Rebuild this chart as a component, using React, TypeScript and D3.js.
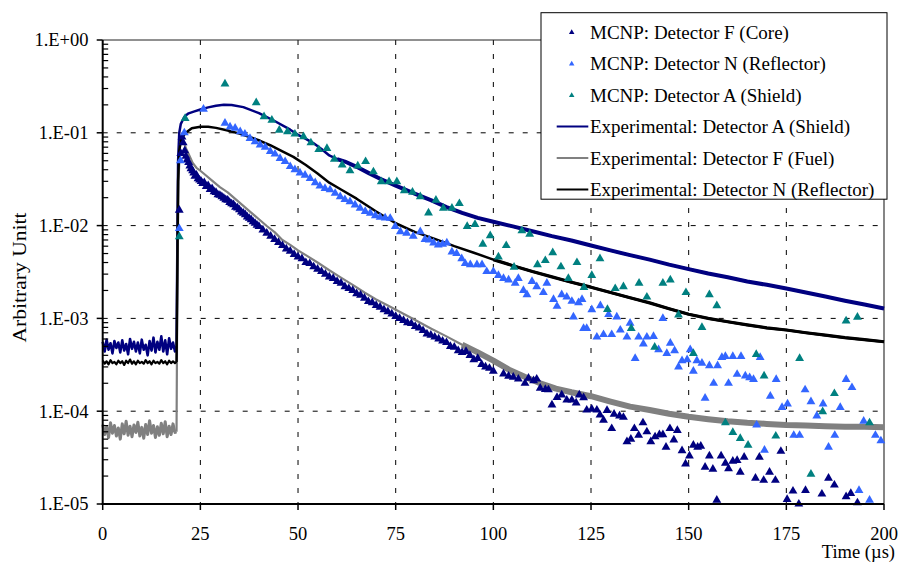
import React from 'react';
import * as d3 from 'd3';

// ---------- data ----------
const xTickValues = [0, 25, 50, 75, 100, 125, 150, 175, 200];
const yTickValues = [1, 1e-1, 1e-2, 1e-3, 1e-4, 1e-5];
const yTickLabels = ['1.E+00', '1.E-01', '1.E-02', '1.E-03', '1.E-04', '1.E-05'];
const xTitle = 'Time (µs)';
const yTitle = 'Arbitrary Unitt';

const legendLabels = [
  'MCNP: Detector F (Core)',
  'MCNP: Detector N (Reflector)',
  'MCNP: Detector A (Shield)',
  'Experimental: Detector A (Shield)',
  'Experimental: Detector F (Fuel)',
  'Experimental: Detector N (Reflector)',
];

// pre-pulse readings (t = 0, 0.5, ... 18.5)
const preTimes = [0,0.5,1,1.5,2,2.5,3,3.5,4,4.5,5,5.5,6,6.5,7,7.5,8,8.5,9,9.5,10,10.5,11,11.5,12,12.5,13,13.5,14,14.5,15,15.5,16,16.5,17,17.5,18,18.5];
const preShield = [5.6e-4,4.4e-4,5.9e-4,4.6e-4,5.4e-4,4.2e-4,5.7e-4,4.8e-4,5.5e-4,4.3e-4,5.8e-4,4.5e-4,5.3e-4,4.1e-4,6.0e-4,4.7e-4,5.6e-4,4.4e-4,5.5e-4,4.2e-4,5.9e-4,4.6e-4,5.2e-4,4.0e-4,5.7e-4,4.5e-4,6.2e-4,4.3e-4,5.6e-4,4.6e-4,6.4e-4,4.4e-4,5.8e-4,4.1e-4,6.1e-4,4.7e-4,5.5e-4,4.4e-4];
const preFuel = [7.2e-5,5.6e-5,6.8e-5,5.2e-5,7.5e-5,5.8e-5,7.0e-5,5.4e-5,6.6e-5,5.0e-5,7.3e-5,5.7e-5,7.8e-5,5.5e-5,6.9e-5,5.3e-5,7.1e-5,5.9e-5,7.6e-5,5.4e-5,6.7e-5,5.1e-5,7.2e-5,5.6e-5,7.9e-5,5.8e-5,7.0e-5,5.2e-5,6.8e-5,5.5e-5,7.4e-5,5.7e-5,7.7e-5,5.3e-5,6.9e-5,5.6e-5,7.3e-5,5.9e-5];
const preReflector = [3.5e-4,3.25e-4,3.45e-4,3.2e-4,3.55e-4,3.3e-4,3.4e-4,3.2e-4,3.5e-4,3.3e-4,3.45e-4,3.15e-4,3.5e-4,3.3e-4,3.6e-4,3.25e-4,3.45e-4,3.2e-4,3.5e-4,3.3e-4,3.4e-4,3.25e-4,3.55e-4,3.3e-4,3.45e-4,3.2e-4,3.5e-4,3.3e-4,3.4e-4,3.25e-4,3.55e-4,3.3e-4,3.45e-4,3.2e-4,3.5e-4,3.3e-4,3.45e-4,3.3e-4];

// post-pulse readings [t, value]
const expShieldMain: [number, number][] = [[18.9,5.0e-4],[19.1,6e-3],[19.3,5e-2],[19.6,1.0e-1],[20.0,1.25e-1],[20.6,1.4e-1],[21.1,1.52e-1],[22,1.62e-1],[23.5,1.7e-1],[25,1.78e-1],[27,1.88e-1],[29,1.96e-1],[31,2.0e-1],[33,1.99e-1],[36,1.89e-1],[40,1.63e-1],[44,1.34e-1],[48,1.08e-1],[50,9.5e-2],[52,8.6e-2],[54,7.7e-2],[56,6.7e-2],[58,5.7e-2],[60,5.2e-2],[62,4.9e-2],[65,4.3e-2],[68,3.7e-2],[71,3.2e-2],[75,2.7e-2],[80,2.2e-2],[84,1.88e-2],[88,1.58e-2],[92,1.37e-2],[96,1.21e-2],[100,1.1e-2],[105,9.8e-3],[110,8.7e-3],[115,7.7e-3],[120,6.9e-3],[125,6.1e-3],[130,5.4e-3],[135,4.8e-3],[140,4.3e-3],[145,3.8e-3],[150,3.4e-3],[155,3.05e-3],[160,2.78e-3],[165,2.5e-3],[170,2.3e-3],[175,2.1e-3],[180,1.9e-3],[185,1.72e-3],[190,1.55e-3],[195,1.41e-3],[200,1.28e-3]];
const expFuelMain: [number, number][] = [[18.9,6.0e-5],[19.1,2e-3],[19.4,3e-2],[19.8,7.5e-2],[20.3,9.0e-2],[20.8,8.0e-2],[21.3,6.8e-2],[22,5.9e-2],[23,4.75e-2],[24,4.2e-2],[25,3.9e-2],[26,3.6e-2],[28,3.05e-2],[30,2.6e-2],[32,2.28e-2],[34,1.93e-2],[36,1.63e-2],[38,1.38e-2],[40,1.17e-2],[42,9.9e-3],[44,8.5e-3],[46,7.0e-3],[48,6.2e-3],[50,5.4e-3],[52,4.8e-3],[55,4.0e-3],[58,3.3e-3],[61,2.75e-3],[64,2.3e-3],[67,1.9e-3],[70,1.6e-3],[73,1.38e-3],[76,1.18e-3],[80,9.6e-4],[84,7.8e-4],[88,6.4e-4],[92,5.2e-4],[96,4.3e-4],[100,3.5e-4],[104,2.8e-4],[108,2.35e-4],[112,2.0e-4],[116,1.75e-4],[120,1.6e-4],[125,1.45e-4],[130,1.27e-4],[135,1.12e-4],[140,1.03e-4],[145,9.4e-5],[150,8.7e-5],[155,8.2e-5],[160,7.8e-5],[165,7.5e-5],[170,7.3e-5],[175,7.1e-5],[180,7.0e-5],[185,6.9e-5],[190,6.8e-5],[195,6.8e-5],[200,6.7e-5]];
const expReflectorMain: [number, number][] = [[18.9,3.4e-4],[19.1,3e-3],[19.3,3e-2],[19.6,6.5e-2],[20.1,8.5e-2],[21.1,9.9e-2],[22.8,1.12e-1],[25,1.16e-1],[27,1.16e-1],[29,1.13e-1],[32,1.06e-1],[35,9.8e-2],[38,8.9e-2],[40.3,8.2e-2],[43,7.3e-2],[46,6.3e-2],[48.8,5.5e-2],[52,4.5e-2],[55,3.65e-2],[58,2.9e-2],[61,2.45e-2],[65,1.95e-2],[70,1.42e-2],[75,1.06e-2],[80,8.5e-3],[85,7.2e-3],[90,6.0e-3],[95,5.1e-3],[100,4.3e-3],[105,3.7e-3],[110,3.2e-3],[115,2.8e-3],[120,2.45e-3],[125,2.17e-3],[130,1.9e-3],[135,1.67e-3],[140,1.47e-3],[145,1.27e-3],[150,1.11e-3],[155,1.0e-3],[160,9.2e-4],[165,8.5e-4],[170,7.9e-4],[175,7.5e-4],[180,7.0e-4],[185,6.6e-4],[190,6.2e-4],[195,5.9e-4],[200,5.6e-4]];

// MCNP tallies [t, value]
const mcnpCore: [number, number][] = [[19.6,1.47e-2],[20.0,6.0e-2],[20.3,9.0e-2],[20.6,7.8e-2],[21.0,6.4e-2],[21.3,5.6e-2],[21.6,5.1e-2],[22.0,4.8e-2],[22.3,4.4e-2],[22.6,4.1e-2],[23.0,3.9e-2],[23.3,3.7e-2],[23.6,3.4e-2],[24.0,3.5e-2],[24.4,3.2e-2],[24.8,3.1e-2],[25.2,3.0e-2],[25.6,2.85e-2],[26.0,2.9e-2],[26.5,2.65e-2],[27.0,2.7e-2],[27.5,2.45e-2],[28.0,2.5e-2],[28.5,2.32e-2],[29.0,2.28e-2],[29.5,2.15e-2],[30.0,2.12e-2],[30.5,2.05e-2],[31.0,1.98e-2],[31.5,1.9e-2],[32.0,1.88e-2],[32.5,1.78e-2],[33.0,1.72e-2],[33.5,1.68e-2],[34.0,1.58e-2],[34.5,1.55e-2],[35.0,1.48e-2],[35.5,1.4e-2],[36.0,1.36e-2],[36.5,1.31e-2],[37.0,1.24e-2],[37.5,1.2e-2],[38.0,1.16e-2],[38.5,1.1e-2],[39.0,1.06e-2],[39.5,1.01e-2],[40,9.8e-3],[41,9.0e-3],[42,8.3e-3],[43,7.7e-3],[44,7.1e-3],[45,6.6e-3],[46,6.1e-3],[47,5.6e-3],[48,5.3e-3],[49,4.9e-3],[50,4.6e-3],[51,4.4e-3],[52,4.0e-3],[53,3.9e-3],[54,3.6e-3],[55,3.4e-3],[56,3.2e-3],[57,3.0e-3],[58,2.8e-3],[59,2.7e-3],[60,2.5e-3],[61,2.4e-3],[62,2.2e-3],[63,2.1e-3],[64,2.0e-3],[65,1.85e-3],[66,1.78e-3],[67,1.65e-3],[68,1.52e-3],[69,1.48e-3],[70,1.38e-3],[71,1.32e-3],[72,1.24e-3],[73,1.18e-3],[74,1.12e-3],[75,1.05e-3],[76,1.0e-3],[77,9.5e-4],[78,9.0e-4],[79,8.8e-4],[80,8.2e-4],[81,7.9e-4],[82,7.4e-4],[83,6.8e-4],[84,6.6e-4],[85,6.3e-4],[86,6.0e-4],[87,5.7e-4],[88,5.5e-4],[89,5.0e-4],[90,4.9e-4],[91,4.5e-4],[92,4.3e-4],[93,4.4e-4],[94,4.0e-4],[95,3.6e-4],[96,3.7e-4],[97,3.2e-4],[98,3.0e-4],[99,2.9e-4],[100,2.7e-4],[102.6,2.52e-4],[103.9,2.39e-4],[105.1,2.33e-4],[106.4,2.22e-4],[108.1,2.0e-4],[109.0,2.27e-4],[110.3,2.13e-4],[111.1,2.22e-4],[112.0,1.77e-4],[113.3,1.72e-4],[114.1,1.7e-4],[115.0,1.17e-4],[116.3,1.41e-4],[117.5,1.5e-4],[118.8,1.32e-4],[120.1,1.32e-4],[121.2,1.23e-4],[122.0,1.5e-4],[123.1,1.4e-4],[123.9,1.03e-4],[125.2,1.05e-4],[126.5,1.03e-4],[127.3,9.1e-5],[128.2,8.0e-5],[129.1,1.02e-4],[130.3,6.5e-5],[130.9,9.3e-5],[132.3,8.9e-5],[133.3,8.6e-5],[134.2,4.7e-5],[135.2,5.0e-5],[136.1,6.5e-5],[137.2,5.5e-5],[138.3,7.5e-5],[139.3,6.0e-5],[140.3,4.7e-5],[141.4,5.3e-5],[142.5,5.6e-5],[143.4,5.6e-5],[144.2,4.1e-5],[145.2,6.5e-5],[146.2,4.9e-5],[147.1,6.2e-5],[148.3,3.75e-5],[149.2,2.7e-5],[150.2,3.3e-5],[151.2,4.3e-5],[152.3,4.1e-5],[153.1,4.2e-5],[154.2,2.5e-5],[155.3,3.3e-5],[156.2,2.37e-5],[157.2,1.1e-5],[158.3,3.3e-5],[159.4,2.75e-5],[160.2,2.4e-5],[161.3,2.9e-5],[162.4,2.95e-5],[163.2,2.2e-5],[164.2,3.2e-5],[167.1,1.9e-5],[168.1,3.2e-5],[169.2,1.8e-5],[170.7,2.2e-5],[172.2,1.8e-5],[173.6,3.7e-5],[175.2,1.12e-5],[176.7,1.38e-5],[178.2,1.0e-5],[179.9,1.4e-5],[184.1,1.28e-5],[185.8,1.9e-5],[187.3,1.6e-5],[190.3,1.2e-5],[191.5,1.3e-5],[193.2,1.03e-5]];

const mcnpReflector: [number, number][] = [[19.6,9.3e-3],[19.9,5.0e-2],[20.9,1.0e-1],[25.8,1.8e-1],[31.3,1.27e-1],[32.6,1.16e-1],[33.9,1.12e-1],[35.2,1.03e-1],[36.4,9.7e-2],[37.7,8.7e-2],[39.0,8.0e-2],[40.3,7.4e-2],[41.6,7.0e-2],[42.9,6.3e-2],[44.1,5.9e-2],[45.4,5.3e-2],[46.7,4.9e-2],[48.0,4.33e-2],[49.2,4.0e-2],[50.5,3.7e-2],[51.8,3.5e-2],[53.1,3.23e-2],[54.4,2.9e-2],[55.6,2.67e-2],[56.9,2.52e-2],[58.2,2.43e-2],[59.5,2.23e-2],[60.8,2.05e-2],[62.0,1.91e-2],[63.3,1.81e-2],[64.6,1.67e-2],[65.9,1.54e-2],[67.2,1.42e-2],[68.5,1.36e-2],[69.8,1.28e-2],[71.0,1.23e-2],[72.3,1.21e-2],[73.6,1.2e-2],[74.9,9.8e-3],[76.2,8.6e-3],[77.8,8.3e-3],[79.5,7.7e-3],[81.3,8.6e-3],[82.5,7.1e-3],[83.6,7.0e-3],[84.7,6.5e-3],[85.9,6.2e-3],[87.0,6.3e-3],[88.1,6.5e-3],[89.4,5.2e-3],[90.6,5.0e-3],[91.9,4.4e-3],[92.8,3.9e-3],[94.1,3.8e-3],[95.8,3.8e-3],[97.1,3.8e-3],[98.3,3.2e-3],[100.0,3.2e-3],[101.3,2.9e-3],[102.6,2.7e-3],[103.9,2.6e-3],[105.6,2.4e-3],[106.4,2.7e-3],[107.7,2.0e-3],[108.6,1.8e-3],[109.9,2.5e-3],[111.1,2.2e-3],[112.8,1.9e-3],[113.7,2.4e-3],[115.4,1.6e-3],[116.3,1.35e-3],[117.5,1.8e-3],[118.8,1.7e-3],[120.1,1.53e-3],[120.5,1.04e-3],[121.8,1.48e-3],[122.7,1.6e-3],[123.1,7.8e-4],[123.9,7.8e-4],[125.2,1.24e-3],[126.5,6.3e-4],[127.4,1.37e-3],[128.2,6.7e-4],[129.5,1.1e-3],[130.3,6.7e-4],[131.6,1.04e-3],[132.5,7.5e-4],[134.2,6.3e-4],[135.0,8.9e-4],[136.3,3.7e-4],[137.2,6.3e-4],[138.4,5.3e-4],[139.3,6.3e-4],[141.0,6.4e-4],[142.3,4.6e-4],[143.4,1.0e-3],[144.4,4.2e-4],[145.3,5.4e-4],[146.4,4.5e-4],[147.4,3.0e-4],[148.3,3.5e-4],[149.6,3.6e-4],[150.4,4.6e-4],[151.2,2.7e-4],[152.1,3.5e-4],[153.4,3.3e-4],[154.2,1.38e-4],[155.3,3.1e-4],[156.4,2.0e-4],[157.4,3.1e-4],[158.5,3.8e-4],[159.4,3.9e-4],[160.2,2.0e-4],[161.3,3.9e-4],[162.4,2.5e-4],[163.4,3.9e-4],[164.5,2.4e-4],[165.6,2.3e-4],[166.6,2.2e-4],[167.4,7.1e-5],[168.3,3.8e-4],[169.4,3.8e-5],[170.9,1.45e-4],[172.4,2.2e-4],[173.9,1.1e-4],[175.3,1.2e-4],[176.9,5.5e-5],[178.4,5.5e-5],[179.8,1.7e-4],[181.3,1.27e-4],[182.8,8.9e-5],[184.4,1.2e-4],[185.8,4.1e-5],[187.4,5.5e-5],[188.8,1.1e-4],[190.3,2.2e-4],[191.8,1.8e-4],[193.6,1.4e-5],[194.8,7.8e-5],[196.3,1.1e-5],[197.8,5.5e-5],[199.2,4.8e-5]];

const mcnpShield: [number, number][] = [[19.6,7.6e-3],[21.1,1.43e-1],[31.3,3.36e-1],[39.3,2.11e-1],[41.3,1.49e-1],[43.3,1.37e-1],[45.2,1.07e-1],[47.3,1.03e-1],[49.2,9.7e-2],[51.4,9.1e-2],[53.3,7.8e-2],[55.3,6.6e-2],[57.4,6.8e-2],[59.3,5.2e-2],[61.3,4.5e-2],[63.3,3.9e-2],[65.3,4.4e-2],[67.3,4.9e-2],[69.3,3.8e-2],[71.3,2.97e-2],[73.3,2.97e-2],[75.3,2.97e-2],[77.2,2.38e-2],[79.3,2.29e-2],[81.3,2.05e-2],[83.4,1.37e-2],[85.3,1.88e-2],[87.2,1.54e-2],[89.4,1.54e-2],[91.3,1.73e-2],[93.3,9.8e-3],[95.3,1.03e-2],[97.3,6.3e-3],[99.2,7.8e-3],[101.3,4.6e-3],[103.3,6.1e-3],[105.3,3.56e-3],[107.3,8.8e-3],[109.3,8.1e-3],[111.3,3.8e-3],[113.3,4.2e-3],[115.2,5.1e-3],[117.3,3.6e-3],[119.2,2.7e-3],[121.4,4.0e-3],[123.2,2.16e-3],[125.2,2.9e-3],[127.3,4.4e-3],[129.2,1.25e-3],[131.2,2.1e-3],[133.3,2.2e-3],[135.3,7.8e-4],[137.3,2.4e-3],[139.3,1.7e-3],[141.3,4.9e-4],[143.4,2.4e-3],[145.3,2.6e-3],[147.4,1.09e-3],[149.3,1.9e-3],[151.2,4.2e-4],[153.4,8.0e-4],[155.3,1.8e-3],[157.2,1.37e-3],[159.4,7.5e-5],[161.3,5.9e-5],[163.2,5.1e-5],[165.2,4.3e-5],[167.3,4.1e-4],[169.3,2.4e-4],[172.3,5.4e-5],[178.4,3.7e-4],[181.3,2.1e-5],[184.3,9.9e-5],[187.3,1.55e-4],[190.3,9.4e-4],[193.2,1.03e-3],[196.3,7.5e-5]];

// ---------- layout ----------
const W = 899, H = 563;
const X0 = 102.7, X1 = 884, YT = 40, YB = 504;
const FONT = '"Liberation Serif", "Times New Roman", serif';
const C_NAVY = '#000080', C_LIGHT = '#3366FF', C_TEAL = '#008080', C_GRAY = '#808080', C_BLACK = '#000000';

const x = d3.scaleLinear().domain([0, 200]).range([X0, X1]);
const y = d3.scaleLog().domain([1e-5, 1]).range([YB, YT]);
const line = d3.line<[number, number]>().x(d => x(d[0])).y(d => y(d[1]));
const tri = d3.symbol().type(d3.symbolTriangle).size(34)() as string;
const triSmall = d3.symbol().type(d3.symbolTriangle).size(13)() as string;

const withPre = (pre: number[], main: [number, number][]) =>
  [...preTimes.map((t, i) => [t, pre[i]] as [number, number]), ...main];

type Exp = { data: [number, number][]; color: string; w: number; preW: number; tailFrom: number; tailW: number };
const experiments: Exp[] = [
  { data: withPre(preShield, expShieldMain), color: C_NAVY, w: 2.5, preW: 2.6, tailFrom: 60, tailW: 4 },
  { data: withPre(preFuel, expFuelMain), color: C_GRAY, w: 2.2, preW: 3, tailFrom: 90, tailW: 6 },
  { data: withPre(preReflector, expReflectorMain), color: C_BLACK, w: 2.5, preW: 2.2, tailFrom: 100, tailW: 3.2 },
];
const mcnp = [
  { data: mcnpCore, color: C_NAVY },
  { data: mcnpReflector, color: C_LIGHT },
  { data: mcnpShield, color: C_TEAL },
];
const legendColors = [C_NAVY, C_LIGHT, C_TEAL, C_NAVY, C_GRAY, C_BLACK];

export default function App() {
  const minorTicks: number[] = [];
  for (let e = -5; e < 0; e++) for (let m = 2; m <= 9; m++) minorTicks.push(m * Math.pow(10, e));

  return (
    <svg width={W} height={H} viewBox={`0 0 ${W} ${H}`}
      style={{ position: 'absolute', left: 0, top: 0, background: '#fff' }}
      fontFamily={FONT}>
      <rect x={0} y={0} width={W} height={H} fill="#fff" />
      {/* gridlines */}
      {xTickValues.slice(1, -1).map(t => (
        <line key={'vx' + t} x1={x(t)} x2={x(t)} y1={YT} y2={YB} stroke="#000" strokeWidth={1} strokeDasharray="5,9" />
      ))}
      {yTickValues.slice(1, -1).map(v => (
        <line key={'hy' + v} x1={X0} x2={X1} y1={y(v)} y2={y(v)} stroke="#000" strokeWidth={1} strokeDasharray="5,9" />
      ))}
      {/* plot border */}
      <line x1={X0} x2={X1} y1={YT} y2={YT} stroke="#222" strokeWidth={1} />
      <line x1={X1} x2={X1} y1={YT} y2={YB} stroke="#444" strokeWidth={1.3} />

      {/* experimental lines */}
      {experiments.map((s, i) => {
        const pre = s.data.filter(d => d[0] <= 18.9);
        const main = s.data.filter(d => d[0] >= 18.9);
        const tail = s.data.filter(d => d[0] >= s.tailFrom);
        return (
          <g key={'exp' + i} fill="none" stroke={s.color} strokeLinejoin="round">
            <path d={line(pre) || ''} strokeWidth={s.preW} />
            <path d={line(main) || ''} strokeWidth={s.w} />
            <path d={line(tail) || ''} strokeWidth={s.tailW} />
          </g>
        );
      })}

      {/* MCNP markers */}
      {mcnp.map((s, i) => (
        <g key={'m' + i} fill={s.color}>
          {s.data.map((d, j) => (
            <path key={j} d={tri} transform={`translate(${x(d[0])},${y(d[1])})`} />
          ))}
        </g>
      ))}

      {/* axes */}
      <line x1={X0} x2={X0} y1={YT} y2={YB + 1} stroke="#000" strokeWidth={2} />
      <line x1={X0 - 1} x2={X1} y1={YB} y2={YB} stroke="#000" strokeWidth={2} />
      {yTickValues.map((v, i) => (
        <g key={'yt' + i}>
          <line x1={X0 - 6} x2={X0} y1={y(v)} y2={y(v)} stroke="#000" strokeWidth={1.5} />
          <text x={88.5} y={y(v)} dy="0.35em" textAnchor="end" fontSize={18.5} fill="#000">{yTickLabels[i]}</text>
        </g>
      ))}
      {minorTicks.map((v, i) => (
        <line key={'mt' + i} x1={X0} x2={X0 + 5.5} y1={y(v)} y2={y(v)} stroke="#000" strokeWidth={1.2} />
      ))}
      {xTickValues.map(t => (
        <g key={'xt' + t}>
          <line x1={x(t)} x2={x(t)} y1={YB} y2={YB + 6} stroke="#000" strokeWidth={1.5} />
          <text x={x(t)} y={540} textAnchor="middle" fontSize={18.5} fill="#000">{t}</text>
        </g>
      ))}
      <text x={895} y={558} textAnchor="end" fontSize={18.5} fill="#000">{xTitle}</text>
      <text transform="translate(26,277.5) rotate(-90)" textAnchor="middle" fontSize={19}
        textLength={130} lengthAdjust="spacingAndGlyphs" fill="#000">{yTitle}</text>

      {/* legend */}
      <rect x={541} y={12.7} width={346} height={186.5} fill="#fff" stroke="#000" strokeWidth={1} />
      {legendLabels.map((label, i) => {
        const base = 38.5 + i * 31.5;
        const cy = base - 6.5;
        return (
          <g key={'lg' + i}>
            {i < 3 ? (
              <path d={triSmall} transform={`translate(571.7,${cy + 0.5})`} fill={legendColors[i]} />
            ) : (
              <line x1={556.7} x2={588.3} y1={cy} y2={cy} stroke={legendColors[i]} strokeWidth={2.2} />
            )}
            <text x={590} y={base} fontSize={19} fill="#000">{label}</text>
          </g>
        );
      })}
    </svg>
  );
}
